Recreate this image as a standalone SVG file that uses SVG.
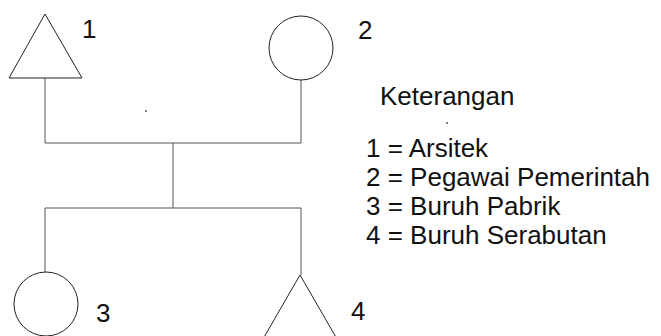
<svg xmlns="http://www.w3.org/2000/svg" width="661" height="336" viewBox="0 0 661 336">
<style>
.s{fill:none;stroke:#222;stroke-width:1}
.c{fill:none;stroke:#555;stroke-width:1}
.t{font-family:"Liberation Sans",Arial,sans-serif;font-size:26px;fill:#111}
</style>
<rect width="661" height="336" fill="#fff"/>
<g id="connectors">
<polyline class="c" points="45,78 45,143 301,143 301,80"/>
<line class="c" x1="173" y1="143" x2="173" y2="208"/>
<polyline class="c" points="45,272 45,208 301,208 301,275"/>
</g>
<g id="node1">
<polygon class="s" points="45,14 82,78 9,78"/>
<text class="t" x="82" y="38">1</text>
</g>
<g id="node2">
<circle class="s" cx="301" cy="48" r="32"/>
<text class="t" x="358" y="39">2</text>
</g>
<g id="node3">
<circle class="s" cx="46" cy="304" r="32"/>
<text class="t" x="96" y="322">3</text>
</g>
<g id="node4">
<polygon class="s" points="300,275 337,339 263,339"/>
<text class="t" x="351" y="320">4</text>
</g>
<g id="legend">
<text class="t" x="380" y="105">Keterangan</text>
<text class="t" x="366" y="157">1 = Arsitek</text>
<text class="t" x="366" y="186">2 = Pegawai Pemerintah</text>
<text class="t" x="366" y="215">3 = Buruh Pabrik</text>
<text class="t" x="366" y="244">4 = Buruh Serabutan</text>
</g>
<circle cx="146" cy="111" r="0.9" fill="#444"/>
<circle cx="447" cy="123" r="0.9" fill="#444"/>
</svg>
